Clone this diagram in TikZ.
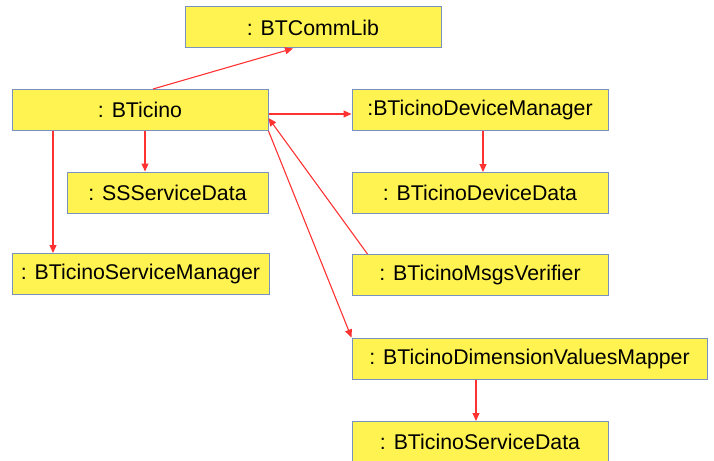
\documentclass[tikz,border=0pt]{standalone}
\usepackage{fontspec}
\setmainfont{Liberation Sans}
\usetikzlibrary{arrows.meta}
\definecolor{boxfill}{RGB}{255,243,82}
\definecolor{boxline}{RGB}{120,145,190}
\definecolor{arrowred}{RGB}{255,50,50}
\begin{document}
\begin{tikzpicture}[x=1pt,y=-1pt,
  objbox/.style={draw=boxline,fill=boxfill,line width=1pt,inner sep=0pt,
    minimum height=41pt,font=\fontsize{21.3}{25}\selectfont},
  link/.style={draw=arrowred,line width=1.1pt,-{Triangle[length=8pt,width=7pt]}}]
\useasboundingbox (0,0) rectangle (714,460);
\node[objbox,minimum width=256pt] (comm) at (313,27.5) {: BTCommLib};
\node[objbox,minimum width=256pt] (bt) at (140,110) {: BTicino};
\node[objbox,minimum width=201pt] (ss) at (167.5,192.5) {: SSServiceData};
\node[objbox,minimum width=257pt] (sm) at (140.5,274) {: BTicinoServiceManager};
\node[objbox,minimum width=256pt] (dm) at (480,110) {:BTicinoDeviceManager};
\node[objbox,minimum width=256pt] (dd) at (480,193) {: BTicinoDeviceData};
\node[objbox,minimum width=256pt] (mv) at (480,275) {: BTicinoMsgsVerifier};
\node[objbox,minimum width=355pt] (map) at (529.5,358.5) {: BTicinoDimensionValuesMapper};
\node[objbox,minimum width=256pt] (sd) at (480,442) {: BTicinoServiceData};
\draw[link] ([xshift=13pt]bt.north) -- ([xshift=-20pt]comm.south);
\draw[link] ([yshift=-4pt]bt.east) -- ([yshift=-4pt]dm.west);
\draw[link] ([xshift=16pt]mv.north west) -- ([yshift=-8pt]bt.east);
\draw[link] (bt.south east) -- (map.north west);
\draw[link] ([xshift=5pt]bt.south) -- ([xshift=-22.5pt]ss.north);
\draw[link] ([xshift=-87pt]bt.south) -- ([xshift=-87.5pt]sm.north);
\draw[link] ([xshift=3pt]dm.south) -- ([xshift=3pt]dd.north);
\draw[link] ([xshift=-53.5pt]map.south) -- ([xshift=-4pt]sd.north);
\end{tikzpicture}
\end{document}
